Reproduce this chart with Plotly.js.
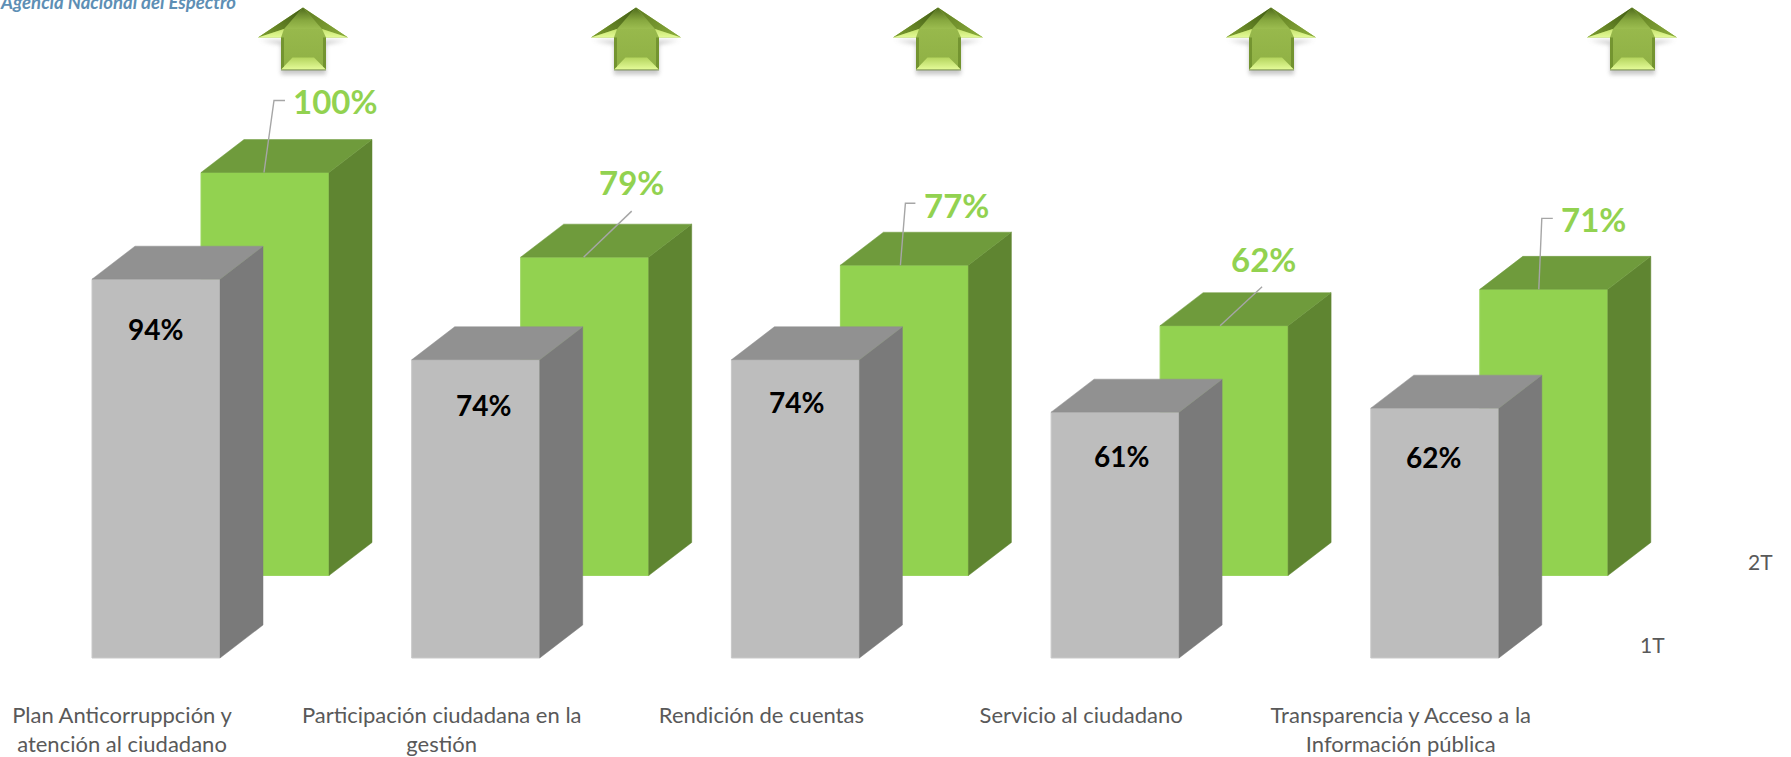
<!DOCTYPE html>
<html>
<head>
<meta charset="utf-8">
<script src="https://cdn.plot.ly/plotly-3.0.1.min.js"></script>
<style>html,body{margin:0;padding:0;background:#fff}#chart{width:1791px;height:757px}</style>
</head>
<body>
<div id="chart"></div>
<script>
// ---- data ----
const categories = ['Plan Anticorruppción y atención al ciudadano','Participación ciudadana en la gestión','Rendición de cuentas','Servicio al ciudadano','Transparencia y Acceso a la Información pública'];
const tickLabels = ['Plan Anticorruppción y<br>atención al ciudadano','Participación ciudadana en la<br>gestión','Rendición de cuentas<br> ','Servicio al ciudadano<br> ','Transparencia y Acceso a la<br>Información pública'];
const series1T = [94,74,74,61,62];
const series2T = [100,79,77,62,71];
const seriesNames = ['1T','2T'];

// ---- layout constants (pixels) ----
const W = 1791, H = 757, PITCH = 319.7, PX_PER_PCT = 4.03;
const DEPTH_X = 43, DEPTH_Y = 33, BAR_PX = 128;
const C0_GREEN = 265, C0_GRAY = 156, BASE_GREEN = 575.5, BASE_GRAY = 658;
const xRange = c0 => [-c0/PITCH, (W-c0)/PITCH];
const yRange = base => [-(H-base)/PX_PER_PCT, base/PX_PER_PCT];
const dx = DEPTH_X/PITCH, dy = DEPTH_Y/PX_PER_PCT, hw = BAR_PX/PITCH/2;
const idx = categories.map((_,i)=>i);

function faces(vals, kind){
  const xs=[], ys=[];
  vals.forEach((v,i)=>{
    if(kind==='side'){
      xs.push(i+hw,i+hw+dx,i+hw+dx,i+hw,i+hw,null);
      ys.push(0,dy,v+dy,v,0,null);
    } else {
      xs.push(i-hw,i-hw+dx,i+hw+dx,i+hw,i-hw,null);
      ys.push(v,v+dy,v+dy,v,v,null);
    }
  });
  return {x:xs,y:ys};
}
function faceTrace(vals,kind,color,xa,ya,name){
  const f=faces(vals,kind);
  return {type:'scatter',mode:'lines',x:f.x,y:f.y,fill:'toself',fillcolor:color,
    line:{width:0.5,color:color},xaxis:xa,yaxis:ya,name:name,hoverinfo:'skip',showlegend:false};
}

// leader lines of the green labels, px offsets from the bar's top centre
const leaderPx = [
  [[-1,0],[9,72],[20,72]],
  [[-1,0],[47,46]],
  [[-4,0],[1,62],[11,62]],
  [[-4,0],[38,39]],
  [[-5,0],[-2,71],[9,71]]
];
const leadX=[], leadY=[];
series2T.forEach((v,i)=>{
  leaderPx[i].forEach(p=>{leadX.push(i+p[0]/PITCH); leadY.push(v+p[1]/PX_PER_PCT);});
  leadX.push(null); leadY.push(null);
});

const traces = [
  {type:'bar',x:idx,y:series2T,width:BAR_PX/PITCH,name:seriesNames[1],text:categories,hoverinfo:'text+y',textposition:'none',
   marker:{color:'#92D250',line:{width:1,color:'#9CD660'}},xaxis:'x',yaxis:'y'},
  faceTrace(series2T,'side','#5F8531','x','y','2T lateral'),
  faceTrace(series2T,'top','#6F9B3C','x','y','2T superior'),
  {type:'scatter',mode:'lines',x:leadX,y:leadY,line:{color:'#A6A6A6',width:1.4},xaxis:'x',yaxis:'y',hoverinfo:'skip',showlegend:false},
  {type:'bar',x:idx,y:series1T,width:BAR_PX/PITCH,name:seriesNames[0],text:categories,hoverinfo:'text+y',textposition:'none',
   marker:{color:'#BDBDBD',line:{width:1,color:'#C9C9C9'}},xaxis:'x2',yaxis:'y2'},
  faceTrace(series1T,'side','#7A7A7A','x2','y2','1T lateral'),
  faceTrace(series1T,'top','#919191','x2','y2','1T superior')
];

// label offsets in px from the bar's top centre
const greenLabelOffset = [[70,-72],[47,-75],[52,-60],[39,-67],[50,-70]];
const grayLabelOffset  = [[-1,50],[8,45],[1,42],[6,44],[-1,49]];
const annotations = [];
series2T.forEach((v,i)=>annotations.push({xref:'x',yref:'y',x:i,y:v,xshift:greenLabelOffset[i][0],yshift:-greenLabelOffset[i][1],
  text:'<b>'+v+'%</b>',showarrow:false,font:{family:'Lato',size:33,color:'#92D250'}}));
series1T.forEach((v,i)=>annotations.push({xref:'x2',yref:'y2',x:i,y:v,xshift:grayLabelOffset[i][0],yshift:-grayLabelOffset[i][1],
  text:'<b>'+v+'%</b>',showarrow:false,font:{family:'Lato',size:28,color:'#000'}}));
annotations.push({xref:'paper',yref:'paper',x:1652/W,y:1-644/H,xanchor:'center',yanchor:'middle',text:seriesNames[0],showarrow:false,font:{family:'Lato',size:21,color:'#595959'}});
annotations.push({xref:'paper',yref:'paper',x:1760/W,y:1-561/H,xanchor:'center',yanchor:'middle',text:seriesNames[1],showarrow:false,font:{family:'Lato',size:21,color:'#595959'}});
annotations.push({xref:'paper',yref:'paper',x:0,xanchor:'left',y:1-2/H,yanchor:'middle',text:'<b><i>Agencia Nacional del Espectro</i></b>',showarrow:false,xshift:-2,
  font:{family:'Lato',size:18.5,color:'#5E8FB5'}});

// decorative arrow glyph
const arrowSvg = `<svg xmlns="http://www.w3.org/2000/svg" width="100" height="76" viewBox="0 0 100 76">
<defs>
<linearGradient id="h" x1="0" y1="0" x2="0" y2="1"><stop offset="0" stop-color="#4f6b1c"/><stop offset="0.6" stop-color="#87a83f"/><stop offset="1" stop-color="#9cbd50"/></linearGradient>
<linearGradient id="lf" x1="1" y1="0" x2="0" y2="1"><stop offset="0" stop-color="#3f5a14"/><stop offset="1" stop-color="#7d9e30"/></linearGradient>
<linearGradient id="rf" x1="0" y1="0" x2="1" y2="1"><stop offset="0" stop-color="#5c7a20"/><stop offset="1" stop-color="#8cae3c"/></linearGradient>
<linearGradient id="b" x1="0" y1="0" x2="0" y2="1"><stop offset="0" stop-color="#9cbd50"/><stop offset="1" stop-color="#8fb044"/></linearGradient>
<linearGradient id="l" x1="0" y1="0" x2="0" y2="1"><stop offset="0" stop-color="#b4d45e"/><stop offset="1" stop-color="#e4fb98"/></linearGradient>
<linearGradient id="tip" x1="0" y1="0" x2="0" y2="1"><stop offset="0" stop-color="#c6e36e"/><stop offset="1" stop-color="#e4fb98"/></linearGradient>
<filter id="s" x="-20%" y="-20%" width="140%" height="140%"><feGaussianBlur stdDeviation="2.2"/></filter>
</defs>
<path d="M7 32 H93 L73 36 V66 H28 V36 Z" fill="#777" opacity="0.4" filter="url(#s)" transform="translate(0,3)"/>
<path d="M50 2 L95 32 H73 V64 H28 V32 H5 Z" fill="url(#b)"/>
<path d="M50 2 L69 23.5 H31 Z" fill="url(#h)"/>
<path d="M50 2 L31 23.5 L5 32 Z" fill="url(#lf)"/>
<path d="M50 2 L69 23.5 L95 32 Z" fill="url(#rf)"/>
<path d="M5 32 L31 23.5 L28 32 Z" fill="url(#tip)"/>
<path d="M95 32 L69 23.5 L73 32 Z" fill="url(#tip)"/>
<path d="M28 64 L39.5 52 H61 L73 64 Z" fill="url(#l)"/>
<path d="M28 32 L31 32 V61 L28 64 Z" fill="#5f7f22" opacity="0.6"/><path d="M73 32 L70 32 V61 L73 64 Z" fill="#5f7f22" opacity="0.6"/>
<path d="M28 64 H73 V65 H28 Z" fill="#4d6a1c" opacity="0.6"/>
</svg>`;
const arrowSrc = 'data:image/svg+xml;charset=utf-8,'+encodeURIComponent(arrowSvg);
const arrowCentres = [303,636,938,1271,1632];
const images = arrowCentres.map(c=>({source:arrowSrc,xref:'paper',yref:'paper',x:(c-50)/W,y:1-5.5/H,sizex:100/W,sizey:76/H,
  sizing:'stretch',xanchor:'left',yanchor:'top',layer:'above'}));

const hidden = {visible:false,showgrid:false,zeroline:false,fixedrange:true};
const layout = {
  width:W,height:H,margin:{l:0,r:0,t:0,b:0},paper_bgcolor:'#fff',plot_bgcolor:'#fff',
  showlegend:false,barmode:'overlay',dragmode:false,
  xaxis:{range:xRange(C0_GREEN),domain:[0,1],anchor:'free',position:1-700/H,showgrid:false,zeroline:false,showline:false,ticks:'',fixedrange:true,
    tickmode:'array',tickvals:idx.map(i=>i-143/PITCH),ticktext:tickLabels,tickangle:0,tickfont:{family:'Lato',size:22,color:'#595959'}},
  yaxis:Object.assign({range:yRange(BASE_GREEN),domain:[0,1]},hidden),
  xaxis2:Object.assign({range:xRange(C0_GRAY),overlaying:'x',anchor:'y2'},hidden),
  yaxis2:Object.assign({range:yRange(BASE_GRAY),overlaying:'y',anchor:'x2'},hidden),
  annotations:annotations,images:images
};
Plotly.newPlot('chart',traces,layout,{displayModeBar:false,responsive:false});
</script>
</body>
</html>
